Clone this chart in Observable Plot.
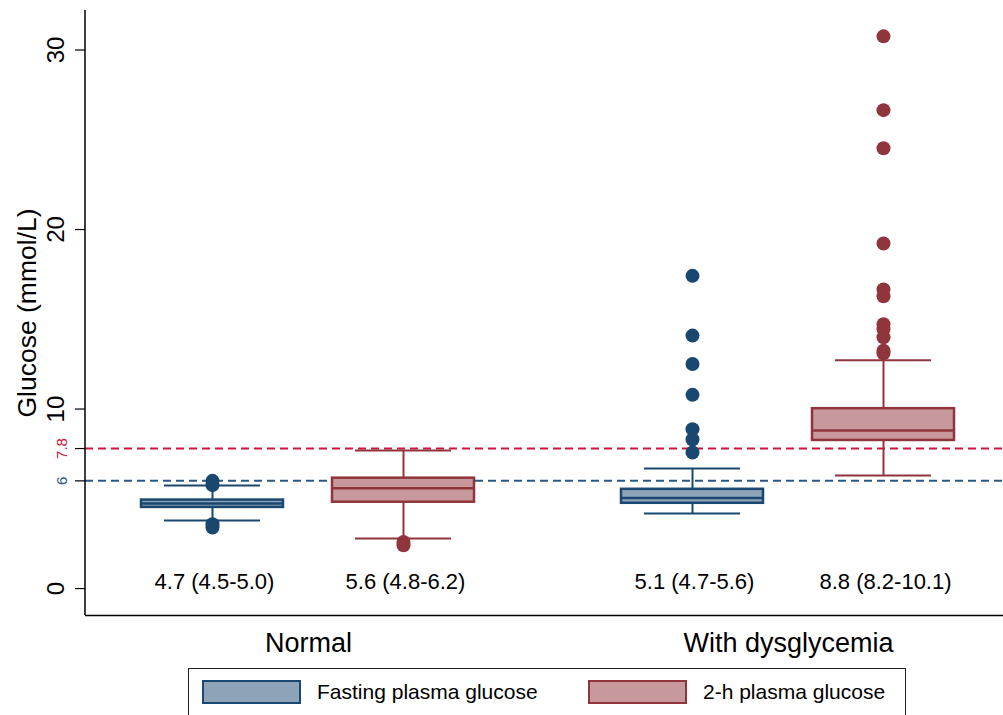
<!DOCTYPE html>
<html>
<head>
<meta charset="utf-8">
<script src="https://cdn.jsdelivr.net/npm/d3@7"></script>
<script src="https://cdn.jsdelivr.net/npm/@observablehq/plot@0.6"></script>
<style>
  html, body { margin: 0; padding: 0; background: #fff; overflow: hidden; }
  #wrap { position: relative; width: 1003px; height: 715px; overflow: hidden; font-family: "Liberation Sans", Arial, Helvetica, sans-serif; }
  #chart { width: 1045px; }
  #chart svg { max-width: none !important; width: 1045px !important; height: 668px !important; display: block; }
  #legend { position: absolute; left: 188px; top: 668px; width: 718px; height: 60px; border: 1.5px solid #222; box-sizing: border-box; background: #fff; }
  .item { position: absolute; top: 11px; display: flex; align-items: center; }
  .sw { width: 99px; height: 24px; box-sizing: border-box; border: 2.5px solid; }
  .lab { margin-left: 16px; font-size: 21px; color: #000; }
</style>
</head>
<body>
<div id="wrap"><div id="chart"></div><div id="legend"></div></div>
<script>
// ---- data ----
const groups = ["Normal", "With dysglycemia"];
const seriesKeys = ["FPG", "2h"];
const seriesNames = ["Fasting plasma glucose", "2-h plasma glucose"];

// boxes in order: Normal FPG, Normal 2h, Dysglycemia FPG, Dysglycemia 2h
const boxGroup  = ["Normal", "Normal", "With dysglycemia", "With dysglycemia"];
const boxSeries = ["FPG", "2h", "FPG", "2h"];
const whiskerLow  = [3.79, 2.79, 4.18, 6.30];
const quartile1   = [4.52, 4.81, 4.75, 8.25];
const medians     = [4.74, 5.59, 5.05, 8.81];
const quartile3   = [4.93, 6.15, 5.53, 10.02];
const whiskerHigh = [5.74, 7.69, 6.69, 12.72];
const valueLabels = ["4.7 (4.5-5.0)", "5.6 (4.8-6.2)", "5.1 (4.7-5.6)", "8.8 (8.2-10.1)"];

const outliersNormalFPG = [6.0, 5.76, 3.58, 3.40];
const outliersNormal2h  = [2.60, 2.41];
const outliersDysFPG    = [17.42, 14.09, 12.51, 10.79, 8.88, 8.30, 7.58];
const outliersDys2h     = [30.76, 26.65, 24.53, 19.22, 16.66, 16.28, 14.72, 14.45, 14.0, 13.25, 13.1];

const refValues = [7.8, 6];
const refLabels = ["7.8", "6"];
const yTicks = [0, 10, 20, 30];
const yDomain = [-1.5, 32.2];
const yTitle = "Glucose (mmol/L)";

// ---- styles ----
const dark  = {FPG: "#1a476f", "2h": "#90353b"};
const light = {FPG: "#8da4b8", "2h": "#c8999c"};
const refColors = ["#d0143c", "#2c5784"];
const font = '"Liberation Sans", Arial, Helvetica, sans-serif';

const stats = boxGroup.map((g, i) => ({
  group: g, series: boxSeries[i],
  lo: whiskerLow[i], q1: quartile1[i], med: medians[i], q3: quartile3[i], hi: whiskerHigh[i],
  label: valueLabels[i]
}));
const outlierLists = [outliersNormalFPG, outliersNormal2h, outliersDysFPG, outliersDys2h];
const outliers = outlierLists.flatMap((list, i) => list.map(v => ({group: boxGroup[i], series: boxSeries[i], value: v})));
const refs = refValues.map((v, i) => ({value: v, label: refLabels[i], color: refColors[i]}));

const sc = d => dark[d.series];
const sl = d => light[d.series];

const plot = Plot.plot({
  width: 1045, height: 668,
  marginLeft: 85, marginRight: 0, marginTop: 10, marginBottom: 53,
  style: {fontFamily: font, background: "white", color: "black"},
  fx: {domain: groups, padding: 0, label: null},
  x: {domain: seriesKeys, paddingInner: 0.256, paddingOuter: 0.381, align: 0.384, axis: null},
  y: {domain: yDomain, axis: null},
  marks: [
    // reference lines
    ...refs.map(r => Plot.ruleY([r.value], {stroke: r.color, strokeWidth: 2, strokeDasharray: "8,5"})),
    // bottom axis line
    Plot.ruleY([yDomain[0]], {stroke: "black", strokeWidth: 1.5}),
    // whiskers
    Plot.ruleX(stats, {x: "series", fx: "group", y1: "q3", y2: "hi", stroke: sc, strokeWidth: 2}),
    Plot.ruleX(stats, {x: "series", fx: "group", y1: "lo", y2: "q1", stroke: sc, strokeWidth: 2}),
    // boxes
    Plot.barY(stats, {x: "series", fx: "group", y1: "q1", y2: "q3", fill: sl, stroke: sc, strokeWidth: 2.5}),
    Plot.tickY(stats, {x: "series", fx: "group", y: "med", stroke: sc, strokeWidth: 2.5}),
    // caps
    Plot.tickY(stats, {x: "series", fx: "group", y: "hi", stroke: sc, strokeWidth: 2, inset: 23}),
    Plot.tickY(stats, {x: "series", fx: "group", y: "lo", stroke: sc, strokeWidth: 2, inset: 23}),
    // outliers
    Plot.dot(outliers, {x: "series", fx: "group", y: "value", r: 7, fill: sc, stroke: "none"}),
    // value labels
    Plot.text(stats, {x: "series", fx: "group", text: "label", frameAnchor: "bottom", lineAnchor: "bottom", dy: -27, dx: 2, fontSize: 22, fill: "black"}),
    // y axis
    Plot.axisY({ticks: yTicks, tickSize: 10, tickPadding: 12, tickRotate: -90, fontSize: 24, label: null, strokeWidth: 1.2}),
    ...refs.map(r => Plot.axisY({ticks: [r.value], tickFormat: () => r.label, tickSize: 10, tickPadding: 9, tickRotate: -90, fontSize: 15, fill: r.color, label: null, strokeWidth: 1.2})),
    Plot.text([yTitle], {fx: () => groups[0], text: d => d, frameAnchor: "left", rotate: -90, textAnchor: "middle", lineAnchor: "bottom", dx: -50, fontSize: 26.5, fill: "black"}),
    // group labels
    Plot.axisFx({anchor: "bottom", tickSize: 0, tickPadding: 17, fontSize: 27, label: null, dx: -17})
  ]
});

document.getElementById("chart").appendChild(plot);

// left axis line along the y range
const ys = plot.scale("y");
d3.select(plot).append("line")
  .attr("x1", 85).attr("x2", 85)
  .attr("y1", ys.apply(yDomain[1])).attr("y2", ys.apply(yDomain[0]))
  .attr("stroke", "black").attr("stroke-width", 1.5);

// legend
const legend = d3.select("#legend");
const lefts = [13, 399];
seriesKeys.forEach((k, i) => {
  const it = legend.append("div").attr("class", "item").style("left", lefts[i] + "px");
  it.append("div").attr("class", "sw").style("background", light[k]).style("border-color", dark[k]);
  it.append("div").attr("class", "lab").text(seriesNames[i]);
});
</script>
</body>
</html>
